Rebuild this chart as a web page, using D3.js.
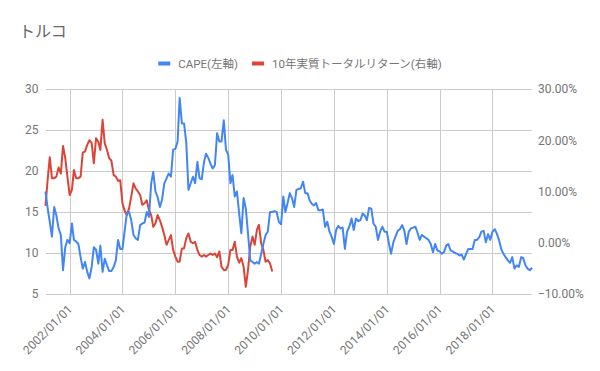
<!DOCTYPE html>
<html>
<head>
<meta charset="utf-8">
<script src="https://cdnjs.cloudflare.com/ajax/libs/d3/7.8.5/d3.min.js"></script>
<style>
  body { margin: 0; background: #fff; }
  text { font-family: Roboto, "Noto Sans CJK JP", sans-serif; }
</style>
</head>
<body>
<div id="viz"></div>
<script>
var title = 'トルコ';
var seriesNames = ['CAPE(左軸)', '10年実質トータルリターン(右軸)'];
var startMonth = '2001-02-01';

// CAPE, monthly from 2001/02 (left axis)
var cape = [
  17.5, 15.6, 13.8, 12.0, 15.6, 14.6, 13.0, 12.2, 7.9, 10.7, 11.6,
  11.2, 13.6, 11.6, 11.4, 11.1, 9.5, 8.1, 8.9, 7.7, 6.9, 8.3, 10.7,
  10.4, 8.7, 10.9, 7.7, 9.3, 8.5, 7.8, 7.8, 8.3, 9.1, 11.6, 10.5,
  10.5, 12.8, 14.8, 15.0, 14.0, 12.2, 11.8, 11.6, 13.4, 13.6, 13.7, 15.0,
  14.4, 18.5, 19.9, 17.5, 16.8, 15.6, 16.5, 18.5, 19.1, 19.7, 19.3, 22.6,
  22.7, 23.6, 28.9, 25.8, 25.8, 23.4, 17.7, 18.5, 19.3, 18.5, 21.1, 19.1,
  19.0, 21.1, 22.1, 21.6, 20.9, 20.3, 20.7, 24.6, 23.6, 23.6, 26.2, 22.6,
  22.0, 18.5, 19.5, 16.9, 17.5, 14.8, 12.4, 16.7, 15.4, 12.4, 9.1, 8.9,
  8.7, 8.9, 8.7, 9.9, 11.1, 12.2, 12.6, 15.0, 15.0, 15.1, 15.0, 13.8,
  13.5, 16.9, 15.0, 16.1, 17.3, 16.7, 15.6, 17.7, 17.8, 17.9, 18.7, 17.3,
  17.3, 16.4, 16.0, 15.8, 16.1, 15.2, 15.2, 15.3, 13.2, 13.8, 12.6, 12.0,
  11.1, 12.8, 13.3, 13.0, 13.1, 10.5, 12.6, 13.2, 14.2, 12.8, 14.2, 13.9,
  14.0, 14.8, 14.6, 14.0, 15.5, 15.4, 13.6, 13.2, 11.6, 12.6, 13.2, 12.6,
  12.6, 11.1, 9.9, 11.3, 12.0, 12.7, 12.9, 13.4, 12.7, 11.1, 12.6, 13.0,
  13.1, 13.2, 12.5, 11.6, 12.2, 12.0, 11.8, 11.6, 11.1, 10.1, 11.1, 10.3,
  10.2, 9.9, 10.1, 10.9, 11.1, 10.3, 10.2, 10.0, 9.9, 9.7, 9.8, 9.2,
  9.9, 10.5, 10.5, 10.5, 11.6, 11.6, 11.9, 12.6, 12.7, 11.3, 12.3, 11.6,
  12.6, 12.9, 12.4, 11.6, 10.5, 9.9, 9.5, 9.1, 8.8, 9.5, 8.1, 8.5,
  8.3, 9.5, 9.4, 8.5, 8.1, 7.9, 8.2
];

// 10-year real total return in %, monthly from 2001/02 (right axis)
var realReturn = [
  7.2, 12.0, 16.7, 12.6, 12.6, 12.9, 14.7, 13.5, 18.9, 16.5, 12.9,
  9.3, 10.3, 14.2, 12.6, 12.6, 12.9, 17.6, 17.8, 19.1, 20.0, 19.5, 15.5,
  20.4, 19.7, 18.1, 24.0, 19.4, 18.1, 16.5, 16.0, 13.2, 12.9, 12.1, 12.2,
  7.7, 6.2, 5.4, 6.7, 9.0, 11.6, 10.6, 10.0, 9.3, 7.4, 7.7, 8.3,
  6.4, 5.4, 3.1, 3.8, 5.4, 4.4, 3.1, 1.5, -0.4, 0.5, 1.5, -1.4,
  -2.7, -3.7, -3.7, -1.1, -1.1, 0.9, 1.8, 0.2, -0.1, 0.2, -1.4, -2.4,
  -2.7, -2.4, -2.7, -2.4, -2.1, -2.4, -2.1, -2.8, -1.7, -4.7, -5.3, -5.3,
  -4.3, -1.4, -1.4, 0.2, -2.7, -3.9, -3.0, -4.7, -8.6, -5.3, -0.8, 1.2,
  -0.4, 2.5, 3.5, -0.1, -1.4, -3.7, -3.4, -4.0, -5.6
];

var leftTicks = [5, 10, 15, 20, 25, 30];
var rightTicks = [-10, 0, 10, 20, 30];
var xTickLabels = ['2002/01/01', '2004/01/01', '2006/01/01', '2008/01/01', '2010/01/01',
                   '2012/01/01', '2014/01/01', '2016/01/01', '2018/01/01'];

var width = 600, height = 371,
    margin = { top: 89, right: 68, bottom: 77, left: 45.5 },
    plotW = width - margin.left - margin.right,
    plotH = height - margin.top - margin.bottom;

var parse = d3.timeParse('%Y-%m-%d'),
    parseTick = d3.timeParse('%Y/%m/%d'),
    start = parse(startMonth);

var months = cape.map(function(d, i) { return d3.timeMonth.offset(start, i); });
var xTicks = xTickLabels.map(function(d) { return parseTick(d); });

var xScale = d3.scaleTime()
  .domain([months[0], months[months.length - 1]])
  .range([margin.left, margin.left + plotW]);

var yLeft = d3.scaleLinear()
  .domain([5, 30])
  .range([margin.top + plotH, margin.top]);

var yRight = d3.scaleLinear()
  .domain([-10, 30])
  .range([margin.top + plotH, margin.top]);

var svg = d3.select('#viz').append('svg')
  .attr('width', width)
  .attr('height', height);

svg.append('text')
  .attr('x', 19)
  .attr('y', 37)
  .style('font-size', '16px')
  .style('fill', '#666')
  .text(title);

// gridlines
svg.append('g').selectAll('line').data(leftTicks)
  .enter().append('line')
    .attr('x1', margin.left).attr('x2', margin.left + plotW)
    .attr('y1', function(d) { return yLeft(d); })
    .attr('y2', function(d) { return yLeft(d); })
    .attr('stroke', '#cccccc').attr('shape-rendering', 'crispEdges');

svg.append('g').selectAll('line').data(xTicks)
  .enter().append('line')
    .attr('x1', function(d) { return Math.round(xScale(d)) + 0.5; })
    .attr('x2', function(d) { return Math.round(xScale(d)) + 0.5; })
    .attr('y1', margin.top).attr('y2', margin.top + plotH)
    .attr('stroke', '#cccccc');

var leftAxis = svg.append('g')
  .attr('transform', 'translate(' + margin.left + ',0)')
  .call(d3.axisLeft(yLeft).tickValues(leftTicks).tickSize(0).tickPadding(7));

var rightAxis = svg.append('g')
  .attr('transform', 'translate(' + (margin.left + plotW) + ',0)')
  .call(d3.axisRight(yRight).tickValues(rightTicks).tickSize(0).tickPadding(6)
    .tickFormat(function(d) { return d3.format('.2f')(d) + '%'; }));

var xAxis = svg.append('g')
  .attr('transform', 'translate(0,' + (margin.top + plotH) + ')')
  .call(d3.axisBottom(xScale).tickValues(xTicks).tickSize(0)
    .tickFormat(function(d, i) { return xTickLabels[i]; }));

xAxis.selectAll('text')
  .attr('x', 0).attr('y', 0).attr('dy', '0.35em')
  .attr('transform', 'translate(0,13) rotate(-45)')
  .style('text-anchor', 'end');

[leftAxis, rightAxis, xAxis].forEach(function(a) {
  a.select('.domain').remove();
  a.selectAll('text')
    .style('font-size', '12px')
    .style('font-family', 'Roboto, sans-serif')
    .attr('fill', '#757575');
});

var capeLine = d3.line()
  .x(function(d, i) { return xScale(months[i]); })
  .y(function(d) { return yLeft(d); });

var returnLine = d3.line()
  .x(function(d, i) { return xScale(months[i]); })
  .y(function(d) { return yRight(d); });

svg.append('path')
  .datum(realReturn)
  .attr('d', returnLine)
  .attr('fill', 'none')
  .attr('stroke', '#db4437')
  .attr('stroke-width', 2)
  .attr('stroke-linejoin', 'round');

svg.append('path')
  .datum(cape)
  .attr('d', capeLine)
  .attr('fill', 'none')
  .attr('stroke', '#4285f4')
  .attr('stroke-width', 2)
  .attr('stroke-linejoin', 'round');

// legend, centred over the chart
var colors = ['#4285f4', '#db4437'];
var legend = svg.append('g');
var items = legend.selectAll('g').data(seriesNames)
  .enter().append('g');

items.append('line')
  .attr('x1', 0).attr('x2', 12)
  .attr('y1', 0).attr('y2', 0)
  .attr('stroke', function(d, i) { return colors[i]; })
  .attr('stroke-width', 4);

items.append('text')
  .attr('x', 20)
  .attr('dy', '0.35em')
  .style('font-size', '11.5px')
  .style('fill', '#757575')
  .text(function(d) { return d; });

var offset = 0, offsets = [];
items.each(function(d, i) {
  offsets.push(offset);
  offset += 20 + this.querySelector('text').getComputedTextLength() + 14;
});
var legendW = offset - 14;
items.attr('transform', function(d, i) {
  return 'translate(' + (300 - legendW / 2 + offsets[i]) + ',63.5)';
});
</script>
</body>
</html>
